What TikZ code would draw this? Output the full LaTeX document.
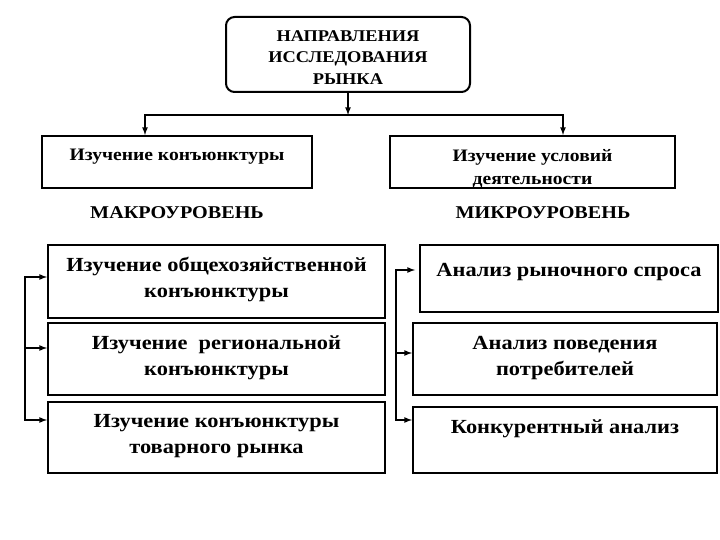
\documentclass[tikz,border=0pt]{standalone}
\usepackage{fontspec}
\setmainfont[FakeStretch=1.12]{Liberation Serif}
\usetikzlibrary{arrows}
\usetikzlibrary{positioning}
\usetikzlibrary{calc}

\begin{document}
\begin{tikzpicture}[x=1pt,y=-1pt,>=latex,thick,font=\bfseries]
\tikzstyle{frame}=[draw,line width=2pt,align=center,inner sep=0pt,text height=10pt]
\tikzstyle{headbox}=[frame,rounded corners=3mm,minimum width=244pt,minimum height=75pt,font=\fontsize{16.4}{21.5}\selectfont\bfseries]
\tikzstyle{midbox}=[frame,minimum height=52pt,text depth=13pt,font=\fontsize{17.5}{23}\selectfont\bfseries]
\tikzstyle{lowbox}=[frame,font=\fontsize{20}{26}\selectfont\bfseries]
\tikzstyle{twoline}=[text height=41pt,text depth=10pt]
\tikzstyle{level}=[font=\fontsize{18}{20}\selectfont\bfseries]
\tikzstyle{link}=[->,line width=1.6pt]

\useasboundingbox[fill=white] (0,0) rectangle (720,540);

\node[headbox,text height=65pt,text depth=5pt] (dirs) at (348,54.5) {НАПРАВЛЕНИЯ\\ИССЛЕДОВАНИЯ\\РЫНКА};
\node[midbox,minimum width=270pt] (conj) at (177,162) {Изучение конъюнктуры};
\node[midbox,minimum width=285pt,text height=48pt,text depth=3pt] (cond) at (532.5,162) {Изучение условий\\деятельности};
\node[level] (macro) at (177,213) {МАКРОУРОВЕНЬ};
\node[level] (micro) at (543,213) {МИКРОУРОВЕНЬ};

% macro level
\node[lowbox,twoline,minimum width=337pt,minimum height=73pt] (gen) at (216.5,281.5) {Изучение общехозяйственной\\конъюнктуры};
\node[lowbox,twoline,minimum width=337pt,minimum height=72pt,text height=42pt] (reg) at (216.5,359) {Изучение\ \ региональной\\конъюнктуры};
\node[lowbox,twoline,minimum width=337pt,minimum height=71pt] (good) at (216.5,437.5) {Изучение конъюнктуры\\товарного рынка};

% micro level
\node[lowbox,minimum width=298pt,minimum height=67pt,text depth=15pt] (dem) at (569,278.5) {Анализ рыночного спроса};
\node[lowbox,twoline,minimum width=304pt,minimum height=72pt,text height=42pt] (beh) at (565,359) {Анализ поведения\\потребителей};
\node[lowbox,minimum width=304pt,minimum height=66pt,text depth=24pt] (comp) at (565,440) {Конкурентный анализ};

\coordinate (split) at (348,115);
\draw[link] (dirs) -- (split);
\draw[link] (split) -| ([xshift=-32pt]conj.north);
\draw[link] (split) -| ([xshift=30.5pt]cond.north);

\coordinate (brl) at (25,348);
\draw[link] (brl) |- ([yshift=4.5pt]gen.west);
\draw[link] (brl) -- ([yshift=11pt]reg.west);
\draw[link] (brl) |- ([yshift=17.5pt]good.west);

\coordinate (brr) at (396,353);
\draw[link] (brr) |- ([yshift=8.5pt,xshift=-4pt]dem.west);
\draw[link] (brr) -- ([yshift=6pt]beh.west);
\draw[link] (brr) |- ([yshift=20pt]comp.west);
\end{tikzpicture}
\end{document}
